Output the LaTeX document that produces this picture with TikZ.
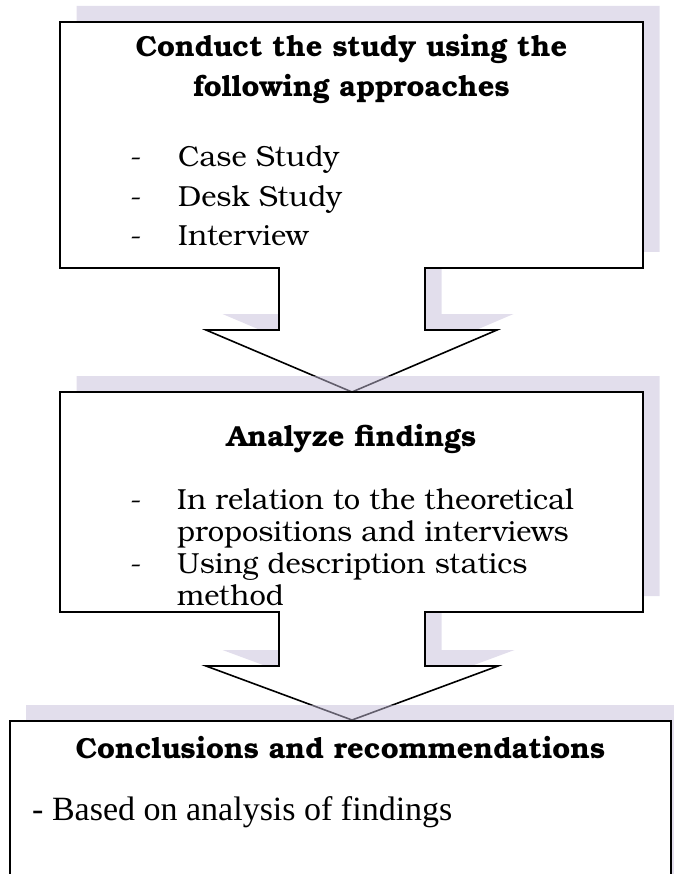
\documentclass[tikz,border=0pt]{standalone}
\usepackage{fontspec}
\setmainfont{TeX Gyre Bonum}
\newfontfamily\timesfont{Liberation Serif}
\begin{document}
\begin{tikzpicture}[x=1pt,y=-1pt]
\definecolor{shadowc}{RGB}{197,189,217}
\tikzset{
  shadowfill/.style={fill=shadowc,fill opacity=0.5,draw=none},
  calloutbox/.style={draw=black,fill=white,line width=1.6pt,line join=miter},
  titletext/.style={inner sep=0pt,anchor=base,font=\fontsize{29}{38}\selectfont\bfseries},
  bodytext/.style={inner sep=0pt,anchor=base west,font=\fontsize{29}{38}\selectfont},
  lasttext/.style={inner sep=0pt,anchor=base west,font=\fontsize{34}{38}\timesfont},
}
\useasboundingbox (0,0) rectangle (674,874);
% ---- callout 1
\fill[shadowfill,shift={(16.5,-16)}] (60,22) -- (643,22) -- (643,268) -- (425,268) -- (425,330) -- (497,330) -- (352,392) -- (206,330) -- (279,330) -- (279,268) -- (60,268) -- cycle;
\draw[calloutbox] (60,22) -- (643,22) -- (643,268) -- (425,268) -- (425,330) -- (497,330) -- (352,392) -- (206,330) -- (279,330) -- (279,268) -- (60,268) -- cycle;
\node[titletext] (t1a) at (351.5,57) {Conduct the study using the};
\node[titletext] (t1b) at (351.5,97) {following approaches};
\node[bodytext] (d1a) at (130,167) {-};
\node[bodytext] (b1a) at (178,167) {Case Study};
\node[bodytext] (d1b) at (130,207) {-};
\node[bodytext] (b1b) at (178,207) {Desk Study};
\node[bodytext] (d1c) at (130,246) {-};
\node[bodytext] (b1c) at (178,246) {Interview};
% ---- callout 2
\fill[shadowfill,shift={(16.5,-16)}] (60,392) -- (643,392) -- (643,612) -- (425,612) -- (425,666) -- (498,666) -- (352,720) -- (206,666) -- (279,666) -- (279,612) -- (60,612) -- cycle;
\draw[calloutbox] (60,392) -- (643,392) -- (643,612) -- (425,612) -- (425,666) -- (498,666) -- (352,720) -- (206,666) -- (279,666) -- (279,612) -- (60,612) -- cycle;
\node[titletext] (t2) at (351.5,446) {Analyze findings};
\node[bodytext] (d2a) at (130,509) {-};
\node[bodytext] (b2a) at (177,509) {In relation to the theoretical};
\node[bodytext] (b2b) at (177,541) {propositions and interviews};
\node[bodytext] (d2b) at (130,573) {-};
\node[bodytext] (b2c) at (177,573) {Using description statics};
\node[bodytext] (b2d) at (177,605) {method};
% ---- box 3
\fill[shadowfill] (26,705) rectangle (674,874);
\fill[white] (10,721) rectangle (671,874);
\draw[line width=1.6pt] (10,874) -- (10,721) -- (671,721) -- (671,874);
\node[titletext] (t3) at (340.5,758) {Conclusions and recommendations};
\node[lasttext] (b3) at (32,820) {- Based on analysis of findings};
\end{tikzpicture}
\end{document}
